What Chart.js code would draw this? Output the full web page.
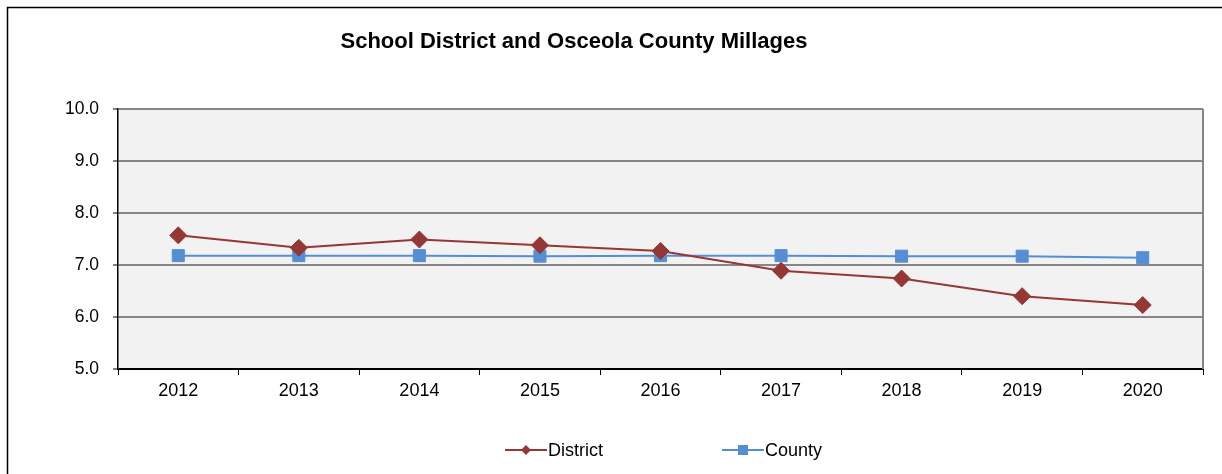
<!DOCTYPE html>
<html>
<head>
<meta charset="utf-8">
<script src="https://cdn.jsdelivr.net/npm/chart.js@4/dist/chart.umd.min.js"></script>
<style>
html,body{margin:0;padding:0;background:#fff;}
#wrap{position:relative;width:1222px;height:474px;}
</style>
</head>
<body>
<div id="wrap"><canvas id="c" width="1222" height="474"></canvas></div>
<script>
const titleText = 'School District and Osceola County Millages';
const years = ['2012','2013','2014','2015','2016','2017','2018','2019','2020'];
const district = [7.57, 7.33, 7.49, 7.38, 7.27, 6.89, 6.74, 6.40, 6.23];
const county = [7.18, 7.18, 7.18, 7.17, 7.18, 7.18, 7.17, 7.17, 7.14];
const yTicks = [5, 6, 7, 8, 9, 10];

const FONT = '"Liberation Sans", Arial, sans-serif';

const decor = {
  id: 'decor',
  beforeDraw(chart) {
    const {ctx, chartArea: a} = chart;
    ctx.save();
    ctx.fillStyle = '#ffffff';
    ctx.fillRect(0, 0, chart.width, chart.height);
    ctx.strokeStyle = '#000000';
    ctx.lineWidth = 1.5;
    ctx.strokeRect(7.5, 7.5, 1400, 600);
    ctx.fillStyle = '#f2f2f2';
    ctx.fillRect(a.left, a.top, a.right - a.left, a.bottom - a.top);
    ctx.restore();
  },
  afterDraw(chart) {
    const {ctx, chartArea: a} = chart;
    ctx.save();
    ctx.strokeStyle = '#868686';
    ctx.lineWidth = 2;
    ctx.beginPath();
    ctx.moveTo(a.right, a.top);
    ctx.lineTo(a.right, a.bottom);
    ctx.stroke();
    // title
    ctx.fillStyle = '#000';
    ctx.font = 'bold 22px ' + FONT;
    ctx.textAlign = 'center';
    ctx.textBaseline = 'middle';
    ctx.fillText(titleText, 574, 42);
    // legend
    const items = [
      {x: 505, ds: chart.data.datasets[0]},
      {x: 722, ds: chart.data.datasets[1]}
    ];
    ctx.font = '18px ' + FONT;
    ctx.textAlign = 'left';
    items.forEach(it => {
      const y = 450;
      const c = it.ds.borderColor;
      ctx.strokeStyle = c;
      ctx.lineWidth = 2;
      ctx.beginPath();
      ctx.moveTo(it.x, y);
      ctx.lineTo(it.x + 42, y);
      ctx.stroke();
      ctx.fillStyle = c;
      const mx = it.x + 21;
      if (it.ds.pointStyle === 'rectRot') {
        ctx.beginPath();
        ctx.moveTo(mx, y - 5); ctx.lineTo(mx + 5, y); ctx.lineTo(mx, y + 5); ctx.lineTo(mx - 5, y);
        ctx.closePath(); ctx.fill();
      } else {
        ctx.fillRect(mx - 5, y - 5, 10, 10);
      }
      ctx.fillStyle = '#000';
      ctx.fillText(it.ds.label, it.x + 43, y + 1);
    });
    ctx.restore();
  }
};

new Chart(document.getElementById('c'), {
  type: 'line',
  data: {
    labels: years,
    datasets: [
      {
        label: 'District', data: district,
        borderColor: '#953735', backgroundColor: '#953735',
        borderWidth: 2, pointStyle: 'rectRot', pointRadius: 8.5,
        pointBorderWidth: 1, pointBorderColor: '#953735', pointBackgroundColor: '#953735',
        tension: 0
      },
      {
        label: 'County', data: county,
        borderColor: '#558ed5', backgroundColor: '#558ed5',
        borderWidth: 2, pointStyle: 'rect', pointRadius: 8.5,
        pointBorderWidth: 1, pointBorderColor: '#558ed5', pointBackgroundColor: '#558ed5',
        tension: 0
      }
    ]
  },
  options: {
    responsive: false,
    animation: false,
    devicePixelRatio: 1,
    layout: {padding: {left: 0, top: 109, right: 19, bottom: 0}},
    plugins: {legend: {display: false}, title: {display: false}, tooltip: {enabled: false}},
    scales: {
      x: {
        offset: true,
        grid: {offset: true, drawOnChartArea: false, color: '#000', tickLength: 6, tickWidth: 1},
        border: {color: '#000', width: 1},
        ticks: {color: '#000', font: {family: FONT, size: 18}, padding: 5, maxRotation: 0},
        afterFit(s) { s.height = 105; }
      },
      y: {
        min: 5, max: 10,
        afterBuildTicks(s) { s.ticks = yTicks.map(v => ({value: v})); },
        grid: {
          color: ctx => ctx.tick && ctx.tick.value === 5 ? '#000' : '#868686',
          lineWidth: 2, tickLength: 5, tickColor: '#000', tickWidth: 1
        },
        border: {color: '#000', width: 1.5},
        ticks: {color: '#000', font: {family: FONT, size: 17.5}, padding: 14,
          callback: v => Number(v).toFixed(1)},
        afterFit(s) { s.width = 118; }
      }
    }
  },
  plugins: [decor]
});
</script>
</body>
</html>
